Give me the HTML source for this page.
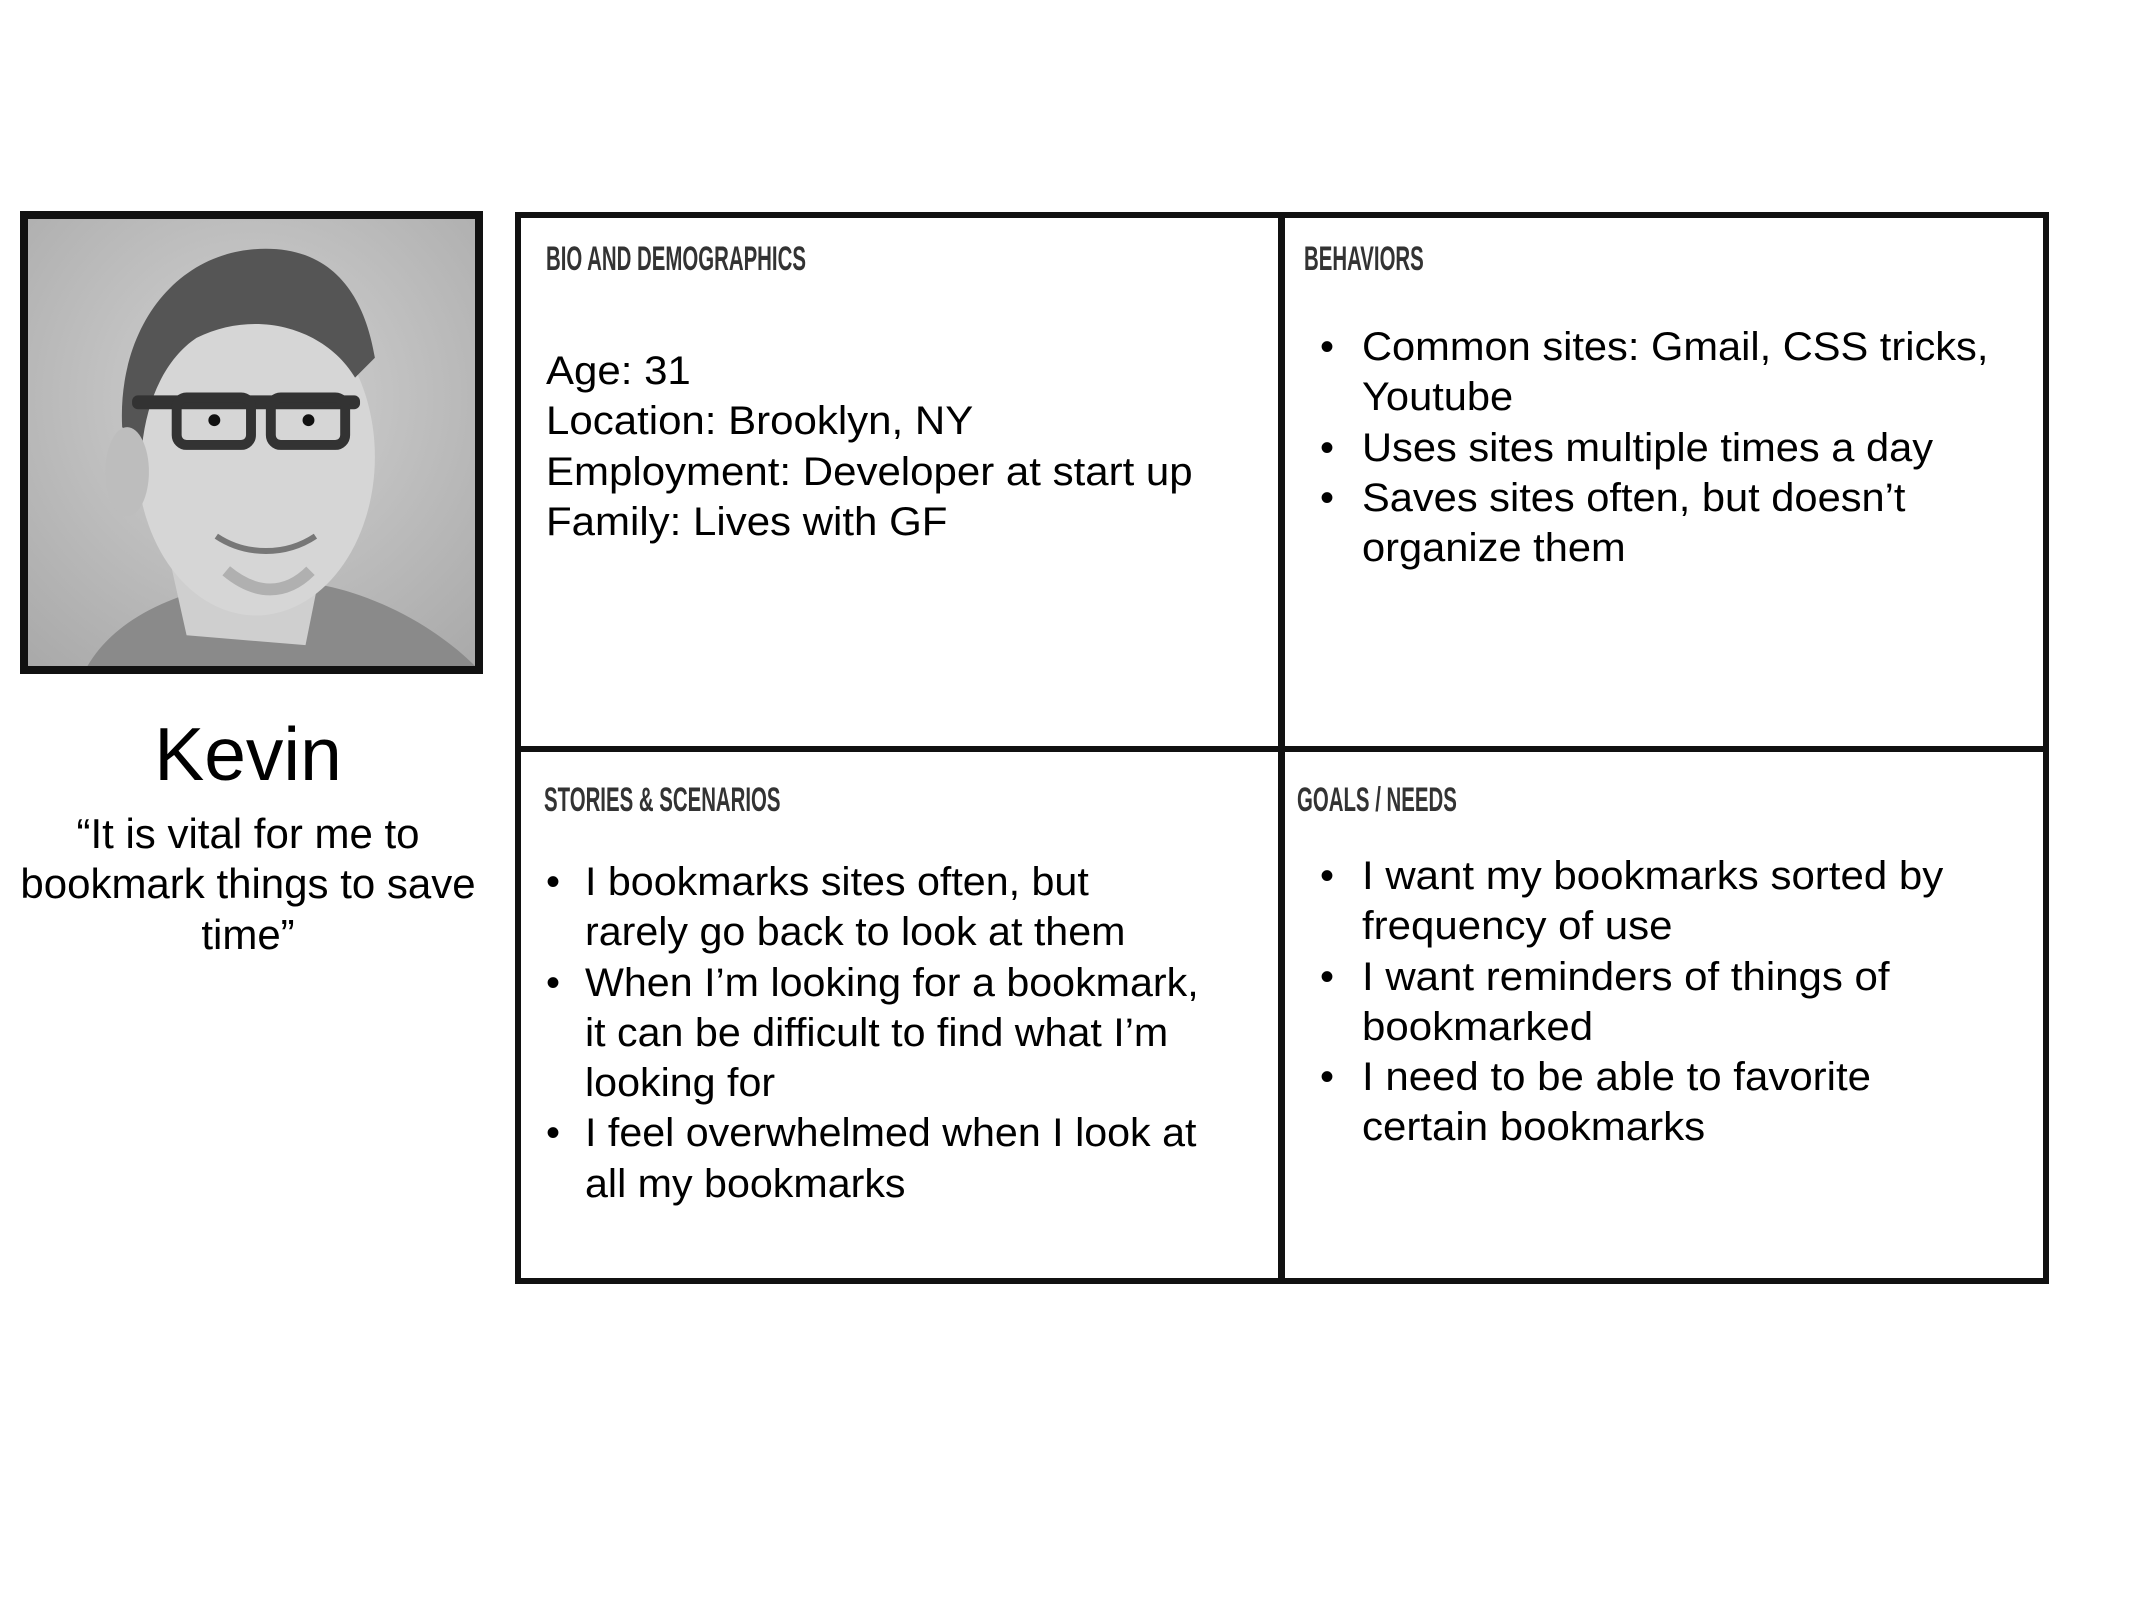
<!DOCTYPE html>
<html><head><meta charset="utf-8"><style>
html,body{margin:0;padding:0;background:#fff;}
body{width:2133px;height:1600px;position:relative;overflow:hidden;font-family:"Liberation Sans",Arial,sans-serif;color:#000;}
.a{position:absolute;white-space:nowrap;}
.hd{position:absolute;font-weight:bold;font-size:34px;color:#333;transform-origin:0 0;transform:scaleX(0.6);}
.tx{position:absolute;font-size:40px;line-height:50.3px;white-space:nowrap;transform-origin:0 0;}
.bul{position:absolute;font-size:40px;line-height:50.3px;}
</style></head><body>

<div class="a" style="left:20px;top:211px;width:463px;height:463px;box-sizing:border-box;border:8px solid #111;background:#c4c4c4;overflow:hidden;">
<svg width="447" height="447" viewBox="0 0 451 451">
<defs><radialGradient id="bg" cx="0.5" cy="0.4" r="0.8"><stop offset="0" stop-color="#d2d2d2"/><stop offset="1" stop-color="#a8a8a8"/></radialGradient></defs>
<rect width="451" height="451" fill="url(#bg)"/>
<path d="M60 451 C90 400 150 380 190 370 L300 370 C350 380 410 410 451 451 Z" fill="#8a8a8a"/>
<path d="M140 330 L160 420 L280 430 L300 330 Z" fill="#cfcfcf"/>
<ellipse cx="230" cy="240" rx="120" ry="160" fill="#d6d6d6"/>
<path d="M95 210 C90 110 150 30 240 30 C310 30 340 80 350 140 L330 160 C300 110 230 90 170 120 C140 140 120 180 115 230 Z" fill="#555"/>
<ellipse cx="100" cy="255" rx="22" ry="45" fill="#bdbdbd"/>
<rect x="105" y="178" width="230" height="14" rx="6" fill="#333"/>
<rect x="150" y="180" width="75" height="48" rx="10" fill="none" stroke="#333" stroke-width="10"/>
<rect x="245" y="180" width="75" height="48" rx="10" fill="none" stroke="#333" stroke-width="10"/>
<circle cx="188" cy="203" r="6" fill="#111"/><circle cx="283" cy="203" r="6" fill="#111"/>
<path d="M190 320 C220 340 260 340 290 320" stroke="#777" stroke-width="6" fill="none"/>
<path d="M200 355 C230 380 260 380 285 355" stroke="#b0b0b0" stroke-width="12" fill="none"/>
</svg>
</div>

<div class="a" style="left:0;width:496px;text-align:center;top:711px;font-size:75px;line-height:86px;">Kevin</div>
<div class="a" style="left:0;width:496px;text-align:center;top:809px;font-size:42px;line-height:50.4px;white-space:normal;">“It is vital for me to<br>bookmark things to save<br>time”</div>

<div class="a" style="left:515px;top:212px;width:1534px;height:1072px;box-sizing:border-box;border:6px solid #111;"></div>
<div class="a" style="left:1278px;top:212px;width:7px;height:1072px;background:#111;"></div>
<div class="a" style="left:515px;top:746px;width:1534px;height:6px;background:#111;"></div>

<div class="hd" style="left:546px;top:240px;">BIO AND DEMOGRAPHICS</div>
<div class="hd" style="left:1304px;top:240px;">BEHAVIORS</div>
<div class="hd" style="left:544px;top:781px;">STORIES &amp; SCENARIOS</div>
<div class="hd" style="left:1297px;top:781px;">GOALS / NEEDS</div>

<div class="tx" style="left:546px;top:346px;transform:scaleX(1.05);">Age: 31<br>Location: Brooklyn, NY<br>Employment: Developer at start up<br>Family: Lives with GF</div>

<div class="bul" style="left:1320px;top:322px;">•<br><br>•<br>•</div>
<div class="tx" style="left:1362px;top:322px;transform:scaleX(1.04);">Common sites: Gmail, CSS tricks,<br>Youtube<br>Uses sites multiple times a day<br>Saves sites often, but doesn’t<br>organize them</div>

<div class="bul" style="left:546px;top:857px;">•<br><br>•<br><br><br>•</div>
<div class="tx" style="left:585px;top:857px;transform:scaleX(1.03);">I bookmarks sites often, but<br>rarely go back to look at them<br>When I’m looking for a bookmark,<br>it can be difficult to find what I’m<br>looking for<br>I feel overwhelmed when I look at<br>all my bookmarks</div>

<div class="bul" style="left:1320px;top:851px;">•<br><br>•<br><br>•</div>
<div class="tx" style="left:1362px;top:851px;transform:scaleX(1.05);">I want my bookmarks sorted by<br>frequency of use<br>I want reminders of things of<br>bookmarked<br>I need to be able to favorite<br>certain bookmarks</div>

</body></html>
